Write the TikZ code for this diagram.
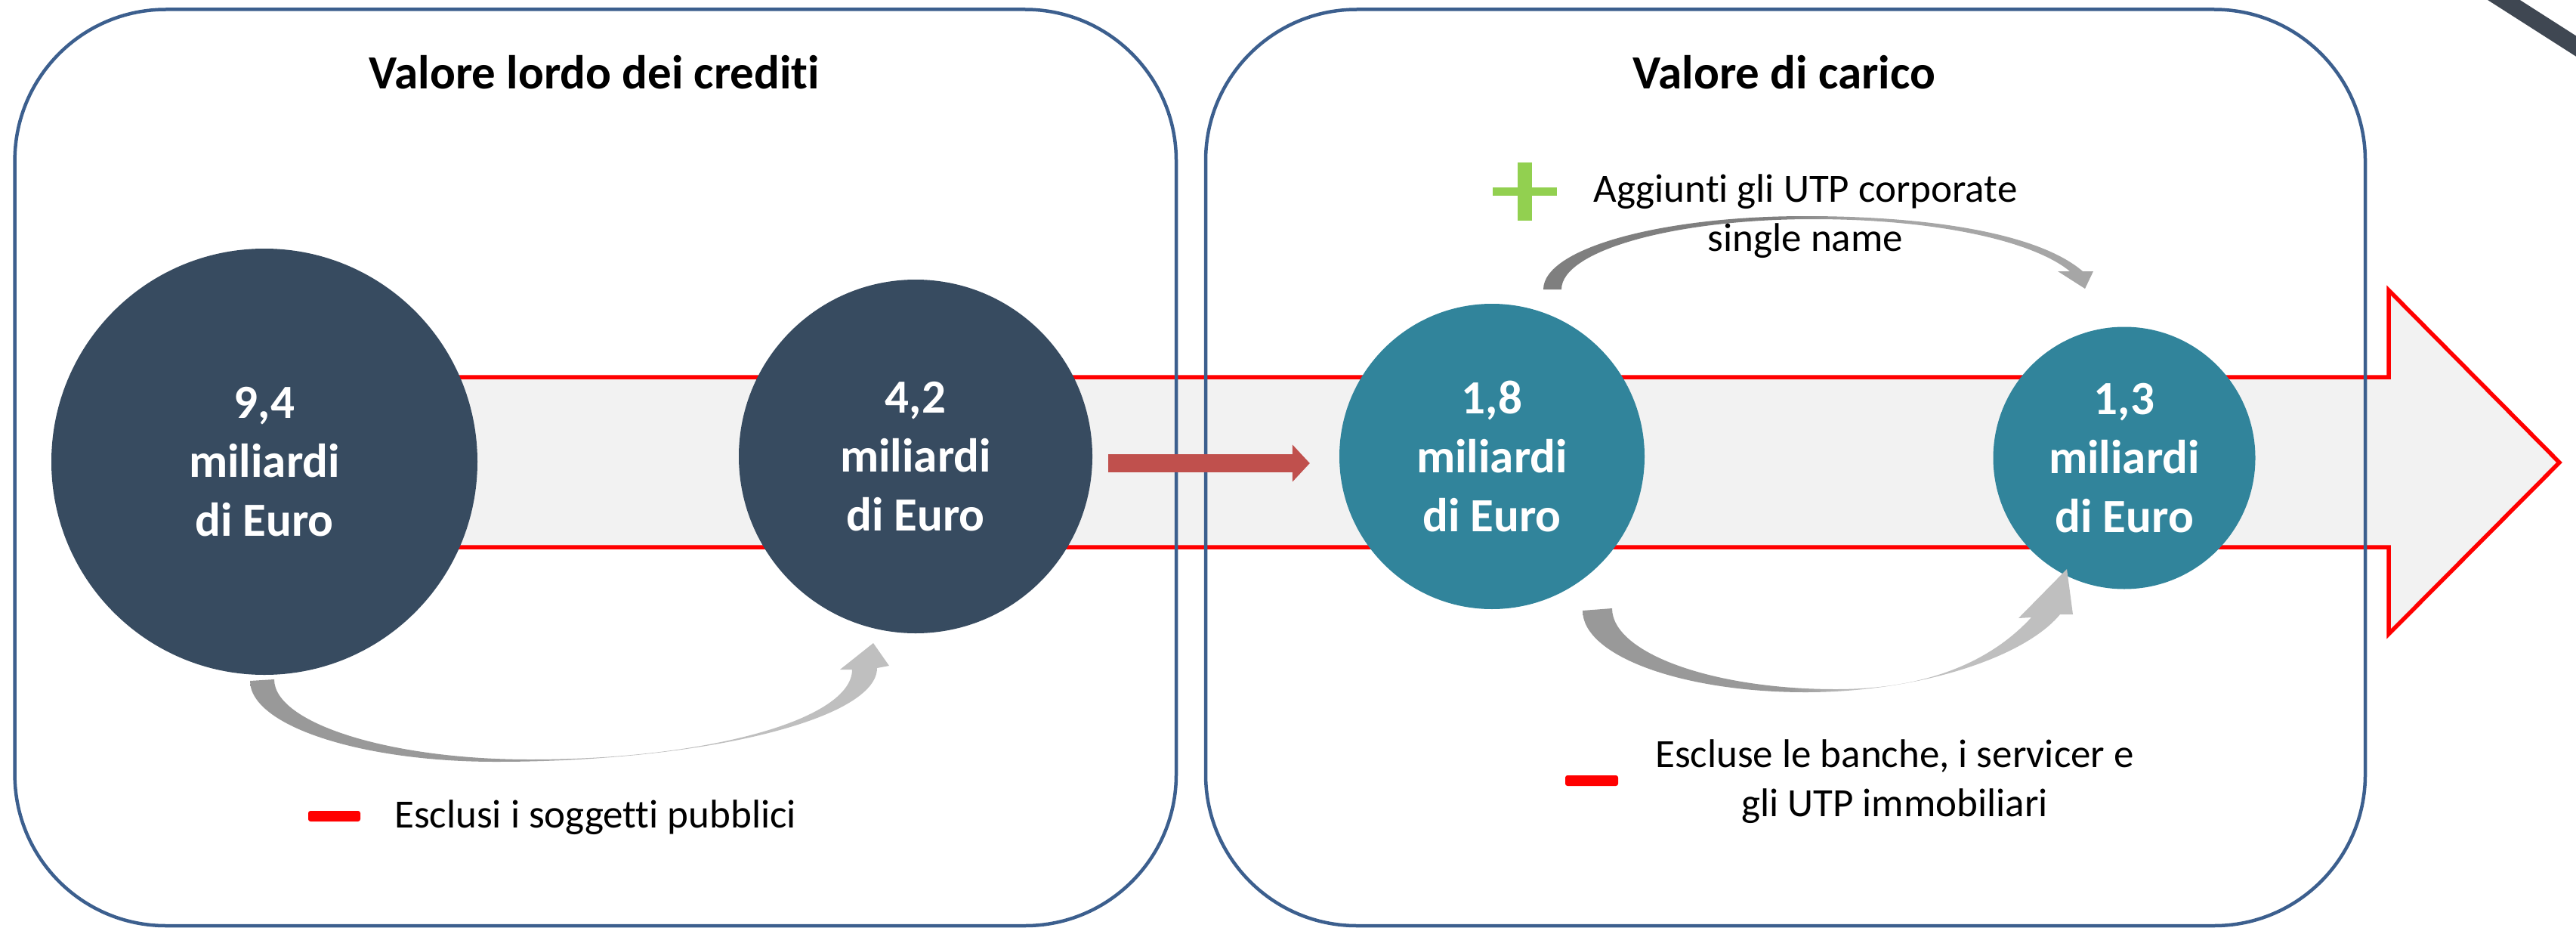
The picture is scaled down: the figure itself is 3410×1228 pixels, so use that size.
\documentclass[tikz,border=0pt]{standalone}
\usepackage{fontspec}
\setmainfont{Carlito}[Ligatures=NoCommon]
\usetikzlibrary{arrows.meta}
\definecolor{boxblue}{HTML}{3C5F8E}
\definecolor{darkc}{HTML}{374B60}
\definecolor{tealc}{HTML}{31849B}
\definecolor{bandfill}{HTML}{F2F2F2}
\definecolor{redarrow}{HTML}{C0504D}
\definecolor{plusgreen}{HTML}{92D050}
\definecolor{diagc}{HTML}{3F4752}
\definecolor{gA}{HTML}{999999}
\definecolor{gB}{HTML}{BFBFBF}
\definecolor{gC}{HTML}{7F7F7F}
\definecolor{gD}{HTML}{A6A6A6}
\pgfdeclarehorizontalshading{botarrow}{100bp}{color(0bp)=(gA); color(46bp)=(gA); color(53bp)=(gB); color(100bp)=(gB)}
\pgfdeclarehorizontalshading{toparrow}{100bp}{color(0bp)=(gC); color(46bp)=(gC); color(54bp)=(gD); color(100bp)=(gD)}
\tikzset{
  frame/.style={draw=boxblue, line width=4.5pt, rounded corners=200pt},
  bigcircle/.style={circle, inner sep=0pt, text=white, align=center,
    font=\bfseries\fontsize{63}{78}\selectfont},
  titletext/.style={inner sep=0pt, font=\bfseries\fontsize{63}{76}\selectfont},
  bodytext/.style={inner sep=0pt, align=center, font=\fontsize{53}{65}\selectfont},
  minusbar/.style={fill=red, rounded corners=3pt},
}
\begin{document}
\begin{tikzpicture}[x=1pt, y=-1pt]
\useasboundingbox (0,0) rectangle (3410,1228);
\clip (0,0) rectangle (3410,1228);
% big band arrow
\draw[draw=red, line width=5.5pt, fill=bandfill, line join=miter]
  (350,499) -- (3162,499) -- (3162,384) -- (3388,612) -- (3162,839)
  -- (3162,724) -- (350,724) -- cycle;
% frames
\draw[frame] (19.6,12.5) rectangle (1557,1225);
\draw[frame] (1596,12.5) rectangle (3131,1225);
% titles
\node[titletext] (t1) at (787,96) {Valore lordo dei crediti};
\node[titletext] (t2) at (2362,96) {Valore di carico};
% circles
\node[bigcircle, fill=darkc, minimum size=564pt] (c1) at (350,611) {9,4\\miliardi\\di Euro};
\node[bigcircle, fill=darkc, minimum size=468pt] (c2) at (1212,604) {4,2\\miliardi\\di Euro};
\node[bigcircle, fill=tealc, minimum size=404pt] (c3) at (1975,604) {1,8\\miliardi\\di Euro};
\node[bigcircle, fill=tealc, minimum size=347pt] (c4) at (2812,606) {1,3\\miliardi\\di Euro};
% red arrow between the frames
\draw[redarrow, line width=24pt, -{Triangle[length=23pt,width=48pt]},
  shorten <=21pt, shorten >=39pt]
  ([yshift=-9pt]c2.east) -- ([yshift=-9pt]c3.west);
% curved gray arrow, left frame
\path[shading=botarrow]
  (331,901) .. controls (331,960) and (477,1008) .. (656,1008)
  .. controls (934,1008) and (1161,951) .. (1161,884)
  -- (1177,881) -- (1156,851) -- (1112,886) -- (1128,886)
  .. controls (1128,952) and (937,1005) .. (702,1005)
  .. controls (516,1005) and (363,957) .. (363,899) -- cycle;
% curved gray arrow, top right
\path[shading=toparrow]
  (2043,383) .. controls (2043,329) and (2198,286) .. (2390,286)
  .. controls (2560,286) and (2700,310) .. (2757,359)
  -- (2771,359) -- (2760,382) -- (2724,359) -- (2740,359)
  .. controls (2690,318) and (2560,290) .. (2400,290)
  .. controls (2216,290) and (2067,332) .. (2067,383) -- cycle;
% curved gray arrow, bottom right
\path[shading=botarrow]
  (2095,808) .. controls (2095,868) and (2227,916) .. (2390,916)
  .. controls (2540,916) and (2680,870) .. (2727,813)
  -- (2744,813) -- (2736,753) -- (2672,818) -- (2689,817)
  .. controls (2640,870) and (2560,912) .. (2430,912)
  .. controls (2267,912) and (2134,864) .. (2134,805) -- cycle;
% labels
\fill[minusbar] (408,1073) rectangle (477,1087);
\node[bodytext, anchor=west] (l1) at (522,1082) {Esclusi i soggetti pubblici};
\fill[plusgreen] (2009,215) rectangle (2028,292);
\fill[plusgreen] (1976,248) rectangle (2061,259);
\node[bodytext] (l2) at (2390,286) {Aggiunti gli UTP corporate\\single name};
\fill[minusbar] (2072,1026) rectangle (2142,1040);
\node[bodytext] (l3) at (2508,1034) {Escluse le banche, i servicer e\\gli UTP immobiliari};
% cropped diagonal in the corner
\draw[diagc, line width=23pt] (3280,-22) -- (3460,93);
\end{tikzpicture}
\end{document}
